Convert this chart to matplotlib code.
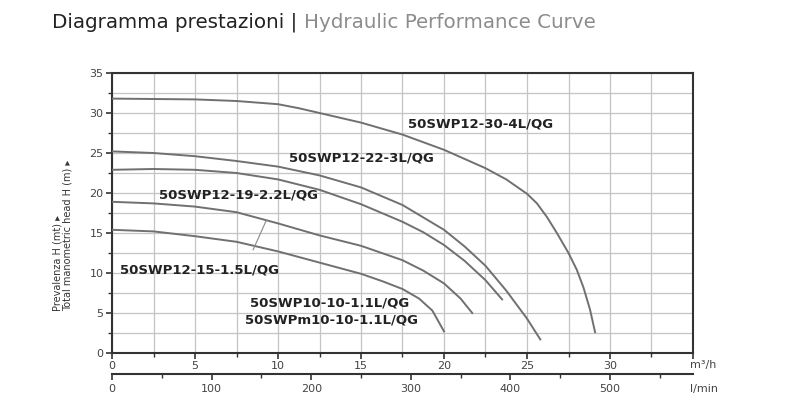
import numpy as np
import matplotlib.pyplot as plt
from matplotlib.ticker import MultipleLocator

# DATA
q30 = [0, 5, 7.5, 10, 11.25, 12.5, 15, 17.5, 20, 22.5, 23.75, 25, 25.6, 26.2, 26.8, 27.5, 28, 28.4, 28.8, 29.1]
h30 = [31.8, 31.7, 31.5, 31.1, 30.6, 30.0, 28.8, 27.3, 25.4, 23.1, 21.7, 19.9, 18.7, 17.0, 15.0, 12.5, 10.4, 8.2, 5.4, 2.6]

q22 = [0, 2.5, 5, 7.5, 10, 12.5, 15, 17.5, 20, 21.25, 22.5, 23.75, 25, 25.8]
h22 = [25.2, 25.0, 24.6, 24.0, 23.3, 22.2, 20.7, 18.5, 15.4, 13.3, 10.9, 7.8, 4.3, 1.7]

q19 = [0, 2.5, 5, 7.5, 10, 12.5, 15, 17.5, 18.75, 20, 21.25, 22.5, 23.5]
h19 = [22.9, 23.0, 22.9, 22.5, 21.7, 20.4, 18.6, 16.4, 15.1, 13.5, 11.5, 9.1, 6.7]

q15 = [0, 2.5, 5, 7.5, 10, 12.5, 15, 17.5, 18.75, 20, 21, 21.7]
h15 = [18.9, 18.7, 18.3, 17.6, 16.2, 14.7, 13.4, 11.6, 10.3, 8.7, 6.8, 5.0]

q10 = [0, 2.5, 5, 7.5, 10, 12.5, 15, 16.25, 17.5, 18.5, 19.3, 20]
h10 = [15.4, 15.2, 14.6, 13.9, 12.7, 11.3, 9.9, 9.0, 8.0, 6.8, 5.3, 2.7]

labels = ["50SWP12-30-4L/QG", "50SWP12-22-3L/QG", "50SWP12-19-2.2L/QG",
          "50SWP12-15-1.5L/QG", "50SWP10-10-1.1L/QG", "50SWPm10-10-1.1L/QG"]
label_q = [22.2, 15.0, 7.6, 5.3, 13.1, 13.2]
label_h = [28.6, 24.4, 19.75, 10.4, 6.25, 4.1]

xticks = [0, 5, 10, 15, 20, 25, 30]
lticks = [0, 100, 200, 300, 400, 500]

curve_col = "#707070"
dark = "#333333"

fig = plt.figure(figsize=(8, 4), dpi=100)
ax = fig.add_axes([112/800, 47/400, (693-112)/800, (353-73)/400])

for q, h in [(q30, h30), (q22, h22), (q19, h19), (q15, h15), (q10, h10)]:
    ax.plot(q, h, color=curve_col, lw=1.4, solid_joinstyle="round", zorder=3)

# leader line for 15-1.5L label
ax.plot([9.3, 8.5], [16.6, 12.9], color="#8a8a8a", lw=0.8, zorder=3)

for t, x, y in zip(labels, label_q, label_h):
    ax.text(x, y, t, ha="center", va="center", fontsize=9.5,
            fontweight="bold", color="#222222", zorder=4)

ax.set_xlim(0, 35)
ax.set_ylim(0, 35)
ax.xaxis.set_minor_locator(MultipleLocator(2.5))
ax.yaxis.set_major_locator(MultipleLocator(5))
ax.yaxis.set_minor_locator(MultipleLocator(2.5))
ax.set_xticks(xticks + [35])
ax.set_xticklabels([str(v) for v in xticks] + [""])
ax.grid(which="both", color="#c4c4c4", lw=0.9, zorder=0)
ax.set_axisbelow(True)

for s in ax.spines.values():
    s.set_color(dark)
    s.set_linewidth(1.5)

ax.tick_params(which="major", length=4, width=1.2, color=dark,
               labelsize=8, labelcolor="#444444", pad=2)
ax.tick_params(which="minor", length=3, width=1.0, color=dark)

ax.text(34.8, -0.043, "m³/h", transform=ax.get_xaxis_transform(),
        ha="left", va="center", fontsize=8, color="#444444")

# secondary flow axis in l/min
sec = ax.secondary_xaxis(-0.076, functions=(lambda q: q*1000/60, lambda l: l*60/1000))
sec.set_xticks(lticks)
sec.xaxis.set_minor_locator(MultipleLocator(50))
sec.spines["bottom"].set_color(dark)
sec.spines["bottom"].set_linewidth(1.5)
sec.tick_params(which="major", length=4, width=1.2, color=dark,
                labelsize=8, labelcolor="#444444", pad=3)
sec.tick_params(which="minor", length=3, width=1.0, color=dark)
ax.text(34.8, -0.129, "l/min", transform=ax.get_xaxis_transform(),
        ha="left", va="center", fontsize=8, color="#444444")

# y label, two lines
fig.text(58/800, 89/400, "Prevalenza H (mt) \u25b8", rotation=90,
         ha="center", va="bottom", fontsize=7, color="#333333")
fig.text(68/800, 89/400, "Total manometric head H (m) \u25b8", rotation=90,
         ha="center", va="bottom", fontsize=7, color="#333333")

# title in two colours
t1 = fig.text(52/800, 1 - 22/400, "Diagramma prestazioni | ", ha="left",
              va="center", fontsize=14.3, color="#222222")
fig.canvas.draw()
bb = t1.get_window_extent()
fig.text(bb.x1/800, 1 - 22/400, "Hydraulic Performance Curve", ha="left",
         va="center", fontsize=14.3, color="#8c8c8c")

fig.savefig("out.png", dpi=100)
